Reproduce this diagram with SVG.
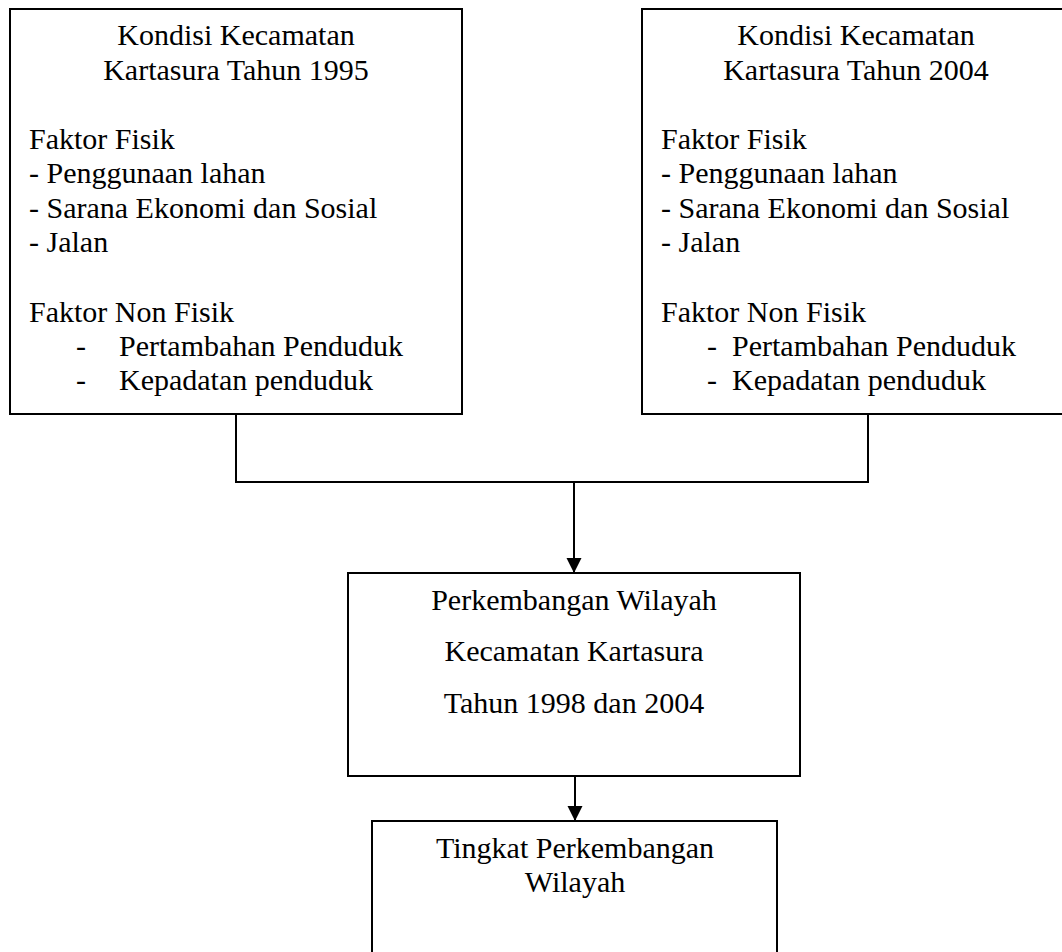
<svg xmlns="http://www.w3.org/2000/svg" width="1062" height="952" viewBox="0 0 1062 952">
<style>
.box{fill:#fff;stroke:#000;stroke-width:2}
.t{font-family:"Liberation Serif","Times New Roman",serif;font-size:30px;fill:#000}
.c{text-anchor:middle}
.conn{fill:none;stroke:#000;stroke-width:2}
</style>
<defs>
<marker id="arr" markerWidth="16" markerHeight="16" refX="14" refY="7.5" orient="auto" markerUnits="userSpaceOnUse">
<path d="M0,0 L15,7.5 L0,15 Z" fill="#000"/>
</marker>
</defs>
<rect width="1062" height="952" fill="#fff"/>
<g id="connectors">
<path class="conn" d="M236,414 V482 H868 V414"/>
<path class="conn" d="M574,482 V572" marker-end="url(#arr)"/>
<path class="conn" d="M575,776 V820" marker-end="url(#arr)"/>
</g>
<g id="node-1995">
<rect class="box" x="10" y="9" width="452" height="405"/>
<text class="t c" x="236" y="45">Kondisi Kecamatan</text>
<text class="t c" x="236" y="80">Kartasura Tahun 1995</text>
<text class="t" x="29" y="149">Faktor Fisik</text>
<text class="t" x="29" y="183">- Penggunaan lahan</text>
<text class="t" x="29" y="218">- Sarana Ekonomi dan Sosial</text>
<text class="t" x="29" y="252">- Jalan</text>
<text class="t" x="29" y="322">Faktor Non Fisik</text>
<text class="t" x="76" y="356">-</text>
<text class="t" x="119" y="356">Pertambahan Penduduk</text>
<text class="t" x="76" y="390">-</text>
<text class="t" x="119" y="390">Kepadatan penduduk</text>
</g>
<g id="node-2004">
<rect class="box" x="642" y="9" width="430" height="405"/>
<text class="t c" x="856" y="45">Kondisi Kecamatan</text>
<text class="t c" x="856" y="80">Kartasura Tahun 2004</text>
<text class="t" x="661" y="149">Faktor Fisik</text>
<text class="t" x="661" y="183">- Penggunaan lahan</text>
<text class="t" x="661" y="218">- Sarana Ekonomi dan Sosial</text>
<text class="t" x="661" y="252">- Jalan</text>
<text class="t" x="661" y="322">Faktor Non Fisik</text>
<text class="t" x="707" y="356">-</text>
<text class="t" x="732" y="356">Pertambahan Penduduk</text>
<text class="t" x="707" y="390">-</text>
<text class="t" x="732" y="390">Kepadatan penduduk</text>
</g>
<g id="node-perkembangan">
<rect class="box" x="348" y="573" width="452" height="203"/>
<text class="t c" x="574" y="610">Perkembangan Wilayah</text>
<text class="t c" x="574" y="661">Kecamatan Kartasura</text>
<text class="t c" x="574" y="713">Tahun 1998 dan 2004</text>
</g>
<g id="node-tingkat">
<rect class="box" x="372" y="821" width="405" height="160"/>
<text class="t c" x="575" y="858">Tingkat Perkembangan</text>
<text class="t c" x="575" y="892">Wilayah</text>
</g>
</svg>
